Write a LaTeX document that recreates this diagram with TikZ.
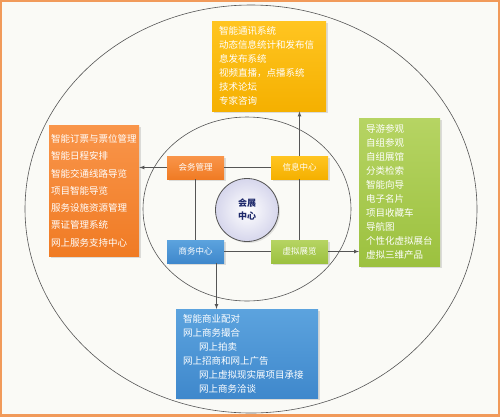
\documentclass[tikz,border=0pt]{standalone}
\usepackage{fontspec}
\newfontfamily\cjk{Noto Sans CJK SC}
\usetikzlibrary{shadows}
\definecolor{hwtop}{HTML}{F9954A}\definecolor{hwbot}{HTML}{F07B24}%会务
\definecolor{xxtop}{HTML}{FFC521}\definecolor{xxbot}{HTML}{F5B000}%信息
\definecolor{swtop}{HTML}{5CA3DE}\definecolor{swbot}{HTML}{3F88CC}%商务
\definecolor{xntop}{HTML}{B6D463}\definecolor{xnbot}{HTML}{9CC13F}%虚拟
\definecolor{bgcol}{HTML}{FAFAF6}
\definecolor{framecol}{HTML}{F19A5A}
\definecolor{linecol}{HTML}{555555}
\definecolor{navy}{HTML}{1F2A6B}
\begin{document}
\begin{tikzpicture}[x=1pt,y=-1pt,>=latex,
  smallbox/.style={minimum width=57pt,minimum height=23pt,inner sep=0pt,text=white,
    font=\cjk\fontsize{8.5}{10}\selectfont,drop shadow={opacity=0.25,shadow xshift=1.5pt,shadow yshift=-1.5pt}},
  bigbox/.style={anchor=north west,inner ysep=0pt,align=left,text=white,
    font=\cjk\fontsize{9.5}{14}\selectfont,drop shadow={opacity=0.25,shadow xshift=2pt,shadow yshift=-2pt}},
  conn/.style={draw=linecol,line width=0.7pt}]
\useasboundingbox[fill=bgcol](0,0)rectangle(500,416);
\draw[framecol,line width=4pt](0,0)rectangle(500,416);%外框
\draw[linecol,line width=0.6pt](251,209)ellipse[x radius=226,y radius=204];%外圈
\draw[linecol,line width=0.6pt](247,209)ellipse[x radius=104,y radius=92];%内圈
%四个中心
\node[smallbox,top color=hwtop,bottom color=hwbot](huiwu)at(195.5,167.5){会务管理};
\node[smallbox,top color=xxtop,bottom color=xxbot](xinxi)at(299.5,167.5){信息中心};
\node[smallbox,top color=swtop,bottom color=swbot](shangwu)at(195.5,251.5){商务中心};
\node[smallbox,top color=xntop,bottom color=xnbot](xuni)at(299.5,251.5){虚拟展览};
\node[circle,draw=linecol,line width=0.8pt,minimum size=63pt,inner color=white,outer color={rgb,255:red,214;green,214;blue,236},
  align=center,text=navy,font=\cjk\bfseries\fontsize{9}{13}\selectfont,drop shadow={opacity=0.2,shadow xshift=1.5pt,shadow yshift=-1.5pt}]
  (zhongxin)at(247,210){会展\\中心};
%四个功能框
\node[bigbox,top color=xxtop,bottom color=xxbot,minimum height=90pt,text width=100pt,inner xsep=7pt](xinxilist)at(212,21)
  {智能通讯系统\\动态信息统计和发布信\\息发布系统\\视频直播，点播系统\\技术论坛\\专家咨询};
\node[bigbox,top color=hwtop,bottom color=hwbot,minimum height=131pt,text width=86pt,inner xsep=2pt,
  font=\cjk\fontsize{9.5}{17.3}\selectfont](huiwulist)at(49,125)
  {智能订票与票位管理\\智能日程安排\\智能交通线路导览\\项目智能导览\\服务设施资源管理\\票证管理系统\\网上服务支持中心};
\node[bigbox,top color=xntop,bottom color=xnbot,minimum height=148pt,text width=67pt,inner xsep=7pt](xunilist)at(359,118)
  {导游参观\\自组参观\\自组展馆\\分类检索\\智能向导\\电子名片\\项目收藏车\\导航图\\个性化虚拟展台\\虚拟三维产品};
\node[bigbox,top color=swtop,bottom color=swbot,minimum height=89pt,text width=128pt,inner xsep=7pt](shangwulist)at(176,309)
  {智能商业配对\\网上商务撮合\\\hspace*{16pt}网上拍卖\\网上招商和网上广告\\\hspace*{16pt}网上虚拟现实展项目承接\\\hspace*{16pt}网上商务洽谈};
%连线
\draw[conn](huiwu)--(xinxi);
\draw[conn](shangwu)--(xuni);
\draw[conn](huiwu)--(shangwu);
\draw[conn](xinxi)--(xuni);
\draw[conn,->](huiwu.west)--(huiwu.west-|huiwulist.east);
\draw[conn,->](xinxi.north)--(xinxi.north|-xinxilist.south);
\draw[conn,->](xuni.east)--(xuni.east-|xunilist.west);
\draw[conn,->]([xshift=21pt]shangwu.south)--([xshift=21pt]shangwu.south|-shangwulist.north);
\end{tikzpicture}
\end{document}
